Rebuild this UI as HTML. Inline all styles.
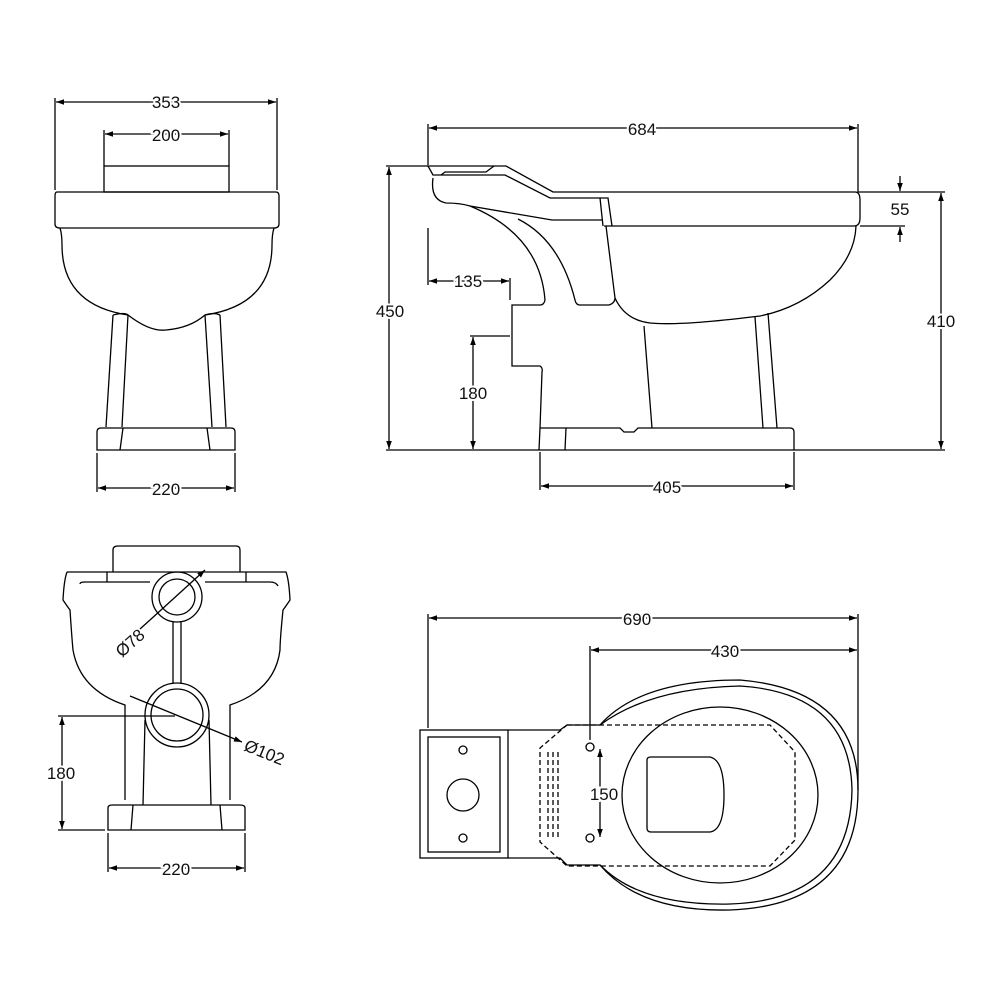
<!DOCTYPE html>
<html><head><meta charset="utf-8"><style>html,body{margin:0;background:#fff}svg{display:block}text{font-family:"Liberation Sans",sans-serif;font-size:17px;fill:#111}</style></head><body>
<svg width="1000" height="1000" viewBox="0 0 1000 1000" xmlns="http://www.w3.org/2000/svg">
<defs><marker id="a" viewBox="0 0 10 10" refX="10" refY="5" markerWidth="10" markerHeight="8" orient="auto-start-reverse" markerUnits="userSpaceOnUse"><path d="M0,1.5 L10,5 L0,8.5z" fill="#000"/></marker></defs>
<g fill="none" stroke="#000" stroke-width="1.3">
<!-- FRONT VIEW -->
<line x1="55" y1="98" x2="55" y2="190"/><line x1="277" y1="98" x2="277" y2="190"/>
<line x1="56" y1="102" x2="276" y2="102" marker-start="url(#a)" marker-end="url(#a)"/>
<line x1="104" y1="130" x2="104" y2="166"/><line x1="229" y1="130" x2="229" y2="166"/>
<line x1="105" y1="134" x2="228" y2="134" marker-start="url(#a)" marker-end="url(#a)"/>
<rect x="104" y="166" width="125" height="26"/>
<path d="M57,192 H276 Q279,192 279,196 V224 Q279,228 274,228 H60 Q55,228 55,224 V196 Q55,192 57,192Z"/>
<path d="M60,228 Q62,234 62,245 Q62,305 128,315 Q150,332 166,330 Q190,328 205,315 Q272,305 272,245 Q272,234 274,228"/>
<path d="M128,315 L122,427 M113,315 L106,427 M205,315 L212,427 M220,315 L226,427"/>
<path d="M113,315 Q125,312 128,315 M205,315 Q214,312 220,315"/>
<path d="M97,450 V432 Q97,428 101,428 H231 Q235,428 235,432 V450 Z"/>
<path d="M123,428 L120,450 M207,428 L210,450"/>
<line x1="97" y1="453" x2="97" y2="492"/><line x1="235" y1="453" x2="235" y2="492"/>
<line x1="98" y1="488" x2="234" y2="488" marker-start="url(#a)" marker-end="url(#a)"/>

<!-- SIDE VIEW -->
<line x1="428" y1="124" x2="428" y2="165"/><line x1="858" y1="124" x2="858" y2="192"/>
<line x1="429" y1="128" x2="857" y2="128" marker-start="url(#a)" marker-end="url(#a)"/>
<line x1="386" y1="166" x2="428" y2="166"/><line x1="386" y1="450" x2="945" y2="450"/>
<line x1="389" y1="167" x2="389" y2="449" marker-start="url(#a)" marker-end="url(#a)"/>
<line x1="858" y1="192" x2="945" y2="192"/><line x1="860" y1="226" x2="905" y2="226"/>
<line x1="941" y1="193" x2="941" y2="449" marker-start="url(#a)" marker-end="url(#a)"/>
<line x1="900" y1="176" x2="900" y2="191" marker-end="url(#a)"/><line x1="900" y1="242" x2="900" y2="227" marker-end="url(#a)"/>
<path d="M427,166 H506 L553,192 H855 Q860,192 860,200 V218 Q860,226 854,226 H604"/>
<path d="M428,166 L433,175 H505 L550,198 H600 L603,226"/>
<path d="M441,175 L445,172 H486 L494,166"/>
<path d="M433,178 Q430,200 446,203 Q460,203 470,206 L552,220 H603 M600,198 L608,198 L612,226"/>
<path d="M470,206 Q540,235 545,300 Q544,305 540,305 H512 V366 H540 Q543,368 542,372 L540,428"/>
<path d="M518,219 Q560,240 575,300 Q576,305 580,305 H609 Q615,303 615,298"/>
<path d="M606,226 L615,298 Q625,320 650,323 Q680,326 760,316 Q800,308 830,280 Q855,255 856,226"/>
<path d="M644,326 L652,428 M755,317 L763,428 M768,313 L777,428"/>
<path d="M540,428 H620 L624,432 H634 L638,428 H790 Q794,428 794,432 V450 M540,428 L539,450 M566,428 L565,450"/>
<line x1="510" y1="278" x2="510" y2="300"/>
<line x1="429" y1="281" x2="509" y2="281" marker-start="url(#a)" marker-end="url(#a)"/>
<line x1="428" y1="228" x2="428" y2="285"/>
<line x1="470" y1="336" x2="510" y2="336"/>
<line x1="473" y1="337" x2="473" y2="449" marker-start="url(#a)" marker-end="url(#a)"/>
<line x1="540" y1="452" x2="540" y2="490"/><line x1="794" y1="452" x2="794" y2="490"/>
<line x1="541" y1="486" x2="793" y2="486" marker-start="url(#a)" marker-end="url(#a)"/>

<!-- REAR VIEW -->
<path d="M113,572 V550 Q113,546 118,546 H236 Q240,546 240,550 V572"/>
<path d="M67,572 H286 Q289,580 290,600 Q286,606 283,610 Q280,640 280,650 Q275,690 230,705 V800 M67,572 Q64,580 63,600 Q67,606 70,610 Q72,640 73,650 Q80,690 125,705 V800"/>
<path d="M107,572 V582 M246,572 V582 M80,584 Q80,582 85,582 H150 M205,582 H270 Q276,582 278,586"/>
<circle cx="177" cy="597" r="25"/><circle cx="177" cy="597" r="18"/>
<path d="M173,621 V684 M181,621 V684"/>
<circle cx="177" cy="715" r="32"/><circle cx="177" cy="715" r="26"/>
<path d="M145,720 L143,805 M209,720 L211,805"/>
<path d="M108,830 V808 Q108,805 112,805 H240 Q245,805 245,808 V830 Z M133,805 L131,830 M220,805 L222,830"/>
<line x1="150" y1="620" x2="205" y2="570" marker-end="url(#a)"/><line x1="150" y1="620" x2="140" y2="629"/>
<line x1="130" y1="696" x2="242" y2="742" marker-end="url(#a)"/>
<line x1="58" y1="716" x2="175" y2="716"/><line x1="58" y1="830" x2="105" y2="830"/>
<line x1="62" y1="717" x2="62" y2="829" marker-start="url(#a)" marker-end="url(#a)"/>
<line x1="108" y1="833" x2="108" y2="872"/><line x1="245" y1="833" x2="245" y2="872"/>
<line x1="109" y1="868" x2="244" y2="868" marker-start="url(#a)" marker-end="url(#a)"/>

<!-- TOP VIEW -->
<line x1="428" y1="614" x2="428" y2="728"/><line x1="858" y1="614" x2="858" y2="790"/>
<line x1="429" y1="618" x2="857" y2="618" marker-start="url(#a)" marker-end="url(#a)"/>
<line x1="590" y1="646" x2="590" y2="740"/>
<line x1="591" y1="650" x2="857" y2="650" marker-start="url(#a)" marker-end="url(#a)"/>
<rect x="420" y="730" width="88" height="128"/><rect x="428" y="737" width="72" height="115"/>
<circle cx="463" cy="750" r="4"/><circle cx="463" cy="838" r="4"/><circle cx="463" cy="795" r="16"/>
<path d="M508,730 H560 L567,725 H600 Q640,680 740,680 Q858,690 858,790 Q858,905 730,910 Q640,912 600,865 H567 L560,858 H508"/>
<path d="M600,725 Q650,688 740,686 Q850,693 852,790 Q850,900 730,904 Q640,906 600,865"/>
<ellipse cx="720" cy="795" rx="98" ry="88"/>
<path d="M647,760 Q647,757 651,757 H710 Q724,760 724,795 Q724,830 710,832 H651 Q647,832 647,828Z"/>
<g stroke-dasharray="5,3"><path d="M567,725 H770 L795,752 V840 L770,866 H567 L540,842 V748Z"/><path d="M548,752 V838 M553,752 V838 M558,752 V838"/></g>
<circle cx="590" cy="747" r="4"/><circle cx="590" cy="838" r="4"/>
<line x1="600" y1="749" x2="600" y2="837" marker-start="url(#a)" marker-end="url(#a)"/>
</g>
<g style="paint-order:stroke;stroke:#fff;stroke-width:4px" text-anchor="middle">
<text x="166" y="108">353</text>
<text x="166" y="141">200</text>
<text x="166" y="495">220</text>
<text x="642" y="135">684</text>
<text x="390" y="317">450</text>
<text x="941" y="327">410</text>
<text x="900" y="215">55</text>
<text x="468" y="287">135</text>
<text x="473" y="399">180</text>
<text x="667" y="493">405</text>
<text x="61" y="779">180</text>
<text x="176" y="875">220</text>
<text x="637" y="625">690</text>
<text x="725" y="657">430</text>
<text x="604" y="800">150</text>
</g>
<text transform="translate(122,658) rotate(-42)">Ø78</text>
<text transform="translate(243,750) rotate(22)">Ø102</text>
</svg>
</body></html>
